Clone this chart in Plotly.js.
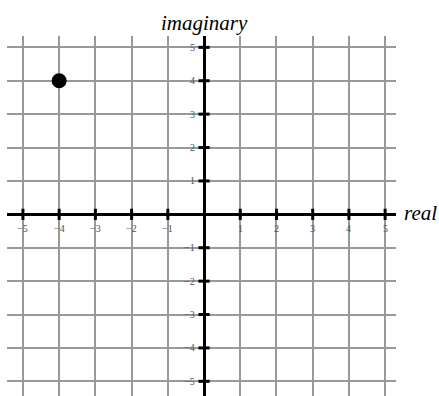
<!DOCTYPE html>
<html>
<head>
<meta charset="utf-8">
<script src="https://cdn.plot.ly/plotly-3.0.1.min.js"></script>
<style>html,body{margin:0;padding:0;background:#fff;}#chart{width:439px;height:396px;}</style>
</head>
<body>
<div id="chart"></div>
<script>
// data
const pointReal = [-4];
const pointImag = [4];
const xTicks = [-5, -4, -3, -2, -1, 1, 2, 3, 4, 5];
const yTicks = [-5, -4, -3, -2, -1, 1, 2, 3, 4, 5];
const xTickLabels = ['\u22125', '\u22124', '\u22123', '\u22122', '\u22121', '1', '2', '3', '4', '5'];
const yTickLabels = ['\u22125', '\u22124', '\u22123', '\u22122', '\u22121', '1', '2', '3', '4', '5'];
const xTitle = 'real';
const yTitle = 'imaginary';

const serif = '"Liberation Serif", "DejaVu Serif", serif';
const labelColor = '#4b5363';

const traces = [
  { // tick crosses on the real axis
    x: xTicks, y: xTicks.map(() => 0), type: 'scatter', mode: 'markers',
    marker: { symbol: 'line-ns', size: 8, line: { width: 3, color: '#000' } },
    hoverinfo: 'skip', showlegend: false, cliponaxis: false
  },
  { // tick crosses on the imaginary axis
    x: yTicks.map(() => 0), y: yTicks, type: 'scatter', mode: 'markers',
    marker: { symbol: 'line-ew', size: 8, line: { width: 3, color: '#000' } },
    hoverinfo: 'skip', showlegend: false, cliponaxis: false
  },
  { // the point
    x: pointReal, y: pointImag, type: 'scatter', mode: 'markers',
    marker: { size: 15, color: '#000' }, showlegend: false
  }
];

const annotations = [];
xTicks.forEach((v, i) => annotations.push({
  x: v, y: 0, xref: 'x', yref: 'y', text: xTickLabels[i], showarrow: false,
  xanchor: 'center', yanchor: 'top', yshift: -7,
  font: { family: serif, size: 10, color: labelColor }
}));
yTicks.forEach((v, i) => annotations.push({
  x: 0, y: v, xref: 'x', yref: 'y', text: yTickLabels[i], showarrow: false,
  xanchor: 'right', yanchor: 'middle', xshift: -7,
  font: { family: serif, size: 10, color: labelColor }
}));
annotations.push({
  x: 1, y: 0, xref: 'paper', yref: 'y', text: '<i>' + xTitle + '</i>', showarrow: false,
  xanchor: 'left', yanchor: 'middle', xshift: 6, yshift: 1,
  font: { family: serif, size: 21, color: '#000' }
});
annotations.push({
  x: 0, y: 1, xref: 'x', yref: 'paper', text: '<i>' + yTitle + '</i>', showarrow: false,
  xanchor: 'center', yanchor: 'bottom', yshift: -1,
  font: { family: serif, size: 21, color: '#000' }
});

const layout = {
  width: 439, height: 396,
  margin: { l: 7, r: 43, t: 36, b: 0, pad: 0 },
  paper_bgcolor: '#fff', plot_bgcolor: '#fff',
  showlegend: false,
  xaxis: {
    range: [-5.44, 5.30], tick0: 0, dtick: 1, showticklabels: false, ticks: '',
    showgrid: true, gridcolor: '#999', gridwidth: 2,
    zeroline: true, zerolinecolor: '#000', zerolinewidth: 3,
    showline: false, fixedrange: true
  },
  yaxis: {
    range: [-5.44, 5.34], tick0: 0, dtick: 1, showticklabels: false, ticks: '',
    showgrid: true, gridcolor: '#999', gridwidth: 2,
    zeroline: true, zerolinecolor: '#000', zerolinewidth: 3,
    showline: false, fixedrange: true
  },
  annotations: annotations
};

Plotly.newPlot('chart', traces, layout, { displayModeBar: false, staticPlot: true });
</script>
</body>
</html>
